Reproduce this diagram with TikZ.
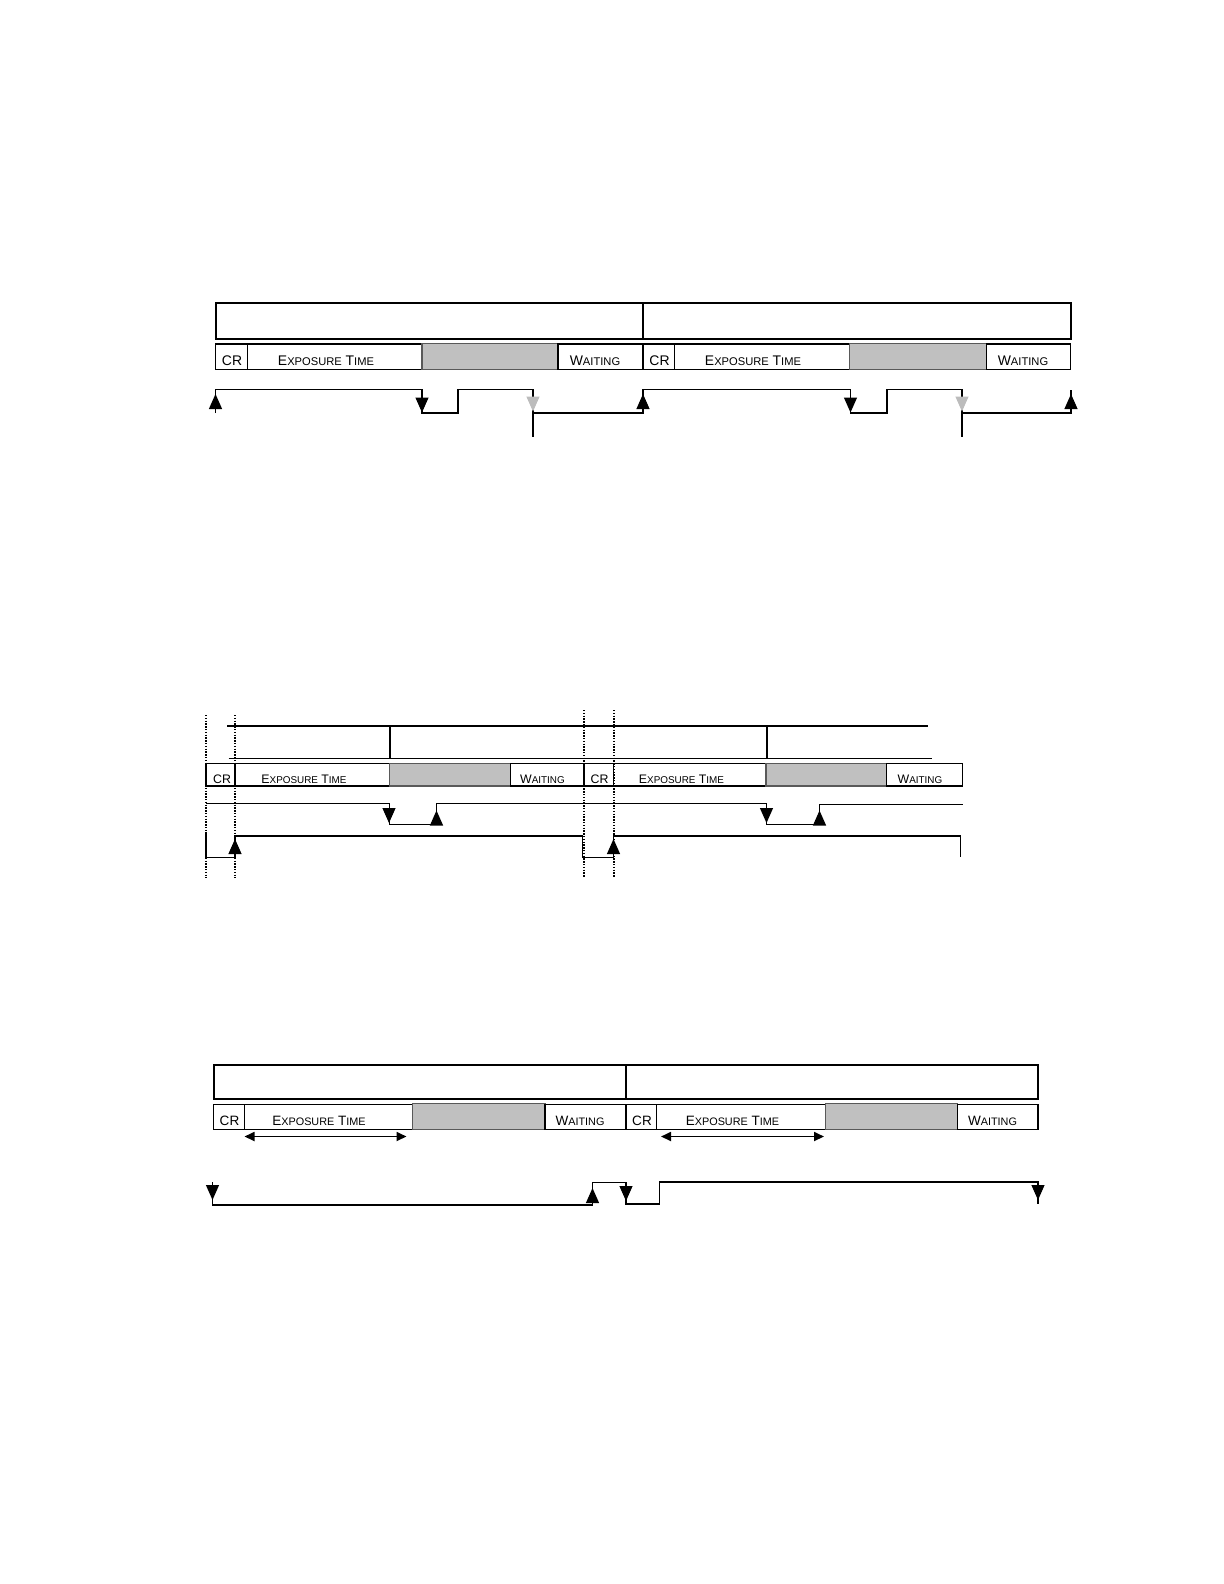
\documentclass[tikz,border=0pt]{standalone}
\usepackage{fontspec}
\newfontfamily\lblfont{Liberation Sans}
\usetikzlibrary{arrows.meta}
\definecolor{busygray}{RGB}{192,192,192}
\definecolor{tipgray}{RGB}{188,188,188}
\newcommand\sml[1]{\scalebox{0.8}{#1}}
\tikzset{
  framebox/.style={line width=1bp},
  cellbox/.style={line width=0.6bp},
  busybox/.style={fill=busygray, draw=black!65, line width=0.6bp},
  signal/.style={line width=0.55bp},
  thinsignal/.style={line width=0.4bp},
  edgetip/.style={-{Triangle[width=6.5bp,length=7.5bp]}, line width=0.55bp},
  spanarrow/.style={{Triangle[width=4.5bp,length=5bp]}-{Triangle[width=4.5bp,length=5bp]}, line width=0.9bp},
  timemark/.style={line width=1bp, dash pattern=on 0.7bp off 0.7bp},
  lblA/.style={font={\lblfont\fontsize{7}{8}\selectfont}, anchor=base, inner sep=0pt},
  lblB/.style={font={\lblfont\fontsize{6.2}{7}\selectfont}, anchor=base, inner sep=0pt},
  lblC/.style={font={\lblfont\fontsize{6.8}{8}\selectfont}, anchor=base, inner sep=0pt}
}
\begin{document}
\begin{tikzpicture}[x=0.5bp, y=-0.5bp]
                \useasboundingbox (0,0) rectangle (1224,1584);%

                % Drawing frame boxes, first chart
                \draw [framebox] (215.5,302.5) rectangle (643,339);%
                \draw [framebox] (643,302.5) rectangle (1070.5,339);%

                % Drawing cells, first chart
                \draw [cellbox] (215.5,344) rectangle (247.5,369.5);%
                \draw [cellbox] (247.5,344) rectangle (422,369.5);%
                \draw [busybox] (422,343.5) rectangle (558,369.5);%
                \draw [cellbox] (558,344) rectangle (643,369.5);%
                \draw [cellbox] (643,344) rectangle (674.5,369.5);%
                \draw [cellbox] (674.5,344) rectangle (849.5,369.5);%
                \draw [busybox] (849.5,343.5) rectangle (986.5,369.5);%
                \draw [cellbox] (986.5,344) rectangle (1070.5,369.5);%
                \node [lblA] (crA1) at (232,365) {CR};%
                \node [lblA] (expA1) at (326,365) {E\sml{XPOSURE} T\sml{IME}};%
                \node [lblA] (waitA1) at (595,365) {W\sml{AITING}};%
                \node [lblA] (crA2) at (659.5,365) {CR};%
                \node [lblA] (expA2) at (753,365) {E\sml{XPOSURE} T\sml{IME}};%
                \node [lblA] (waitA2) at (1023,365) {W\sml{AITING}};%

                % Drawing signal, first chart
                \draw [signal] (215.5,413) -- (215.5,389.5) -- (422,389.5) -- (422,413) -- (458,413) -- (458,389.5)
                  -- (533,389.5) -- (533,413) -- (643,413) -- (643,389.5) -- (850.5,389.5) -- (850.5,413)
                  -- (887,413) -- (887,389.5) -- (962,389.5) -- (962,413) -- (1071,413) -- (1071,389.5);%
                \draw [signal] (533,413) -- (533,437);%
                \draw [signal] (962,413) -- (962,437);%
                \draw [edgetip] (215.5,401.5) -- (215.5,394);%
                \draw [edgetip] (643,401.5) -- (643,394);%
                \draw [edgetip] (1071,401.5) -- (1071,394);%
                \draw [edgetip] (422,405) -- (422,412.5);%
                \draw [edgetip] (850.5,405) -- (850.5,412.5);%
                \draw [edgetip, tipgray] (533,404) -- (533,411.5);%
                \draw [edgetip, tipgray] (962,404) -- (962,411.5);%

                % Drawing strip, second chart
                \draw [cellbox] (227,726) -- (928,726);%
                \draw [cellbox] (228.5,758.5) -- (931.5,758.5);%
                \draw [cellbox] (390,726) -- (390,758.5);%
                \draw [cellbox] (767,726) -- (767,758.5);%

                % Drawing cells, second chart
                \draw [cellbox] (206,763.5) rectangle (235,786);%
                \draw [cellbox] (235,763.5) rectangle (389.5,786);%
                \draw [busybox] (389.5,763.5) rectangle (510.5,786);%
                \draw [cellbox] (510.5,763.5) rectangle (584,786);%
                \draw [cellbox] (584,763.5) rectangle (613.5,786);%
                \draw [cellbox] (613.5,763.5) rectangle (766,786);%
                \draw [busybox] (766,763.5) rectangle (886.5,786);%
                \draw [cellbox] (886.5,763.5) rectangle (962.5,786);%
                \node [lblB] (crB1) at (222,783) {CR};%
                \node [lblB] (expB1) at (304,783) {E\sml{XPOSURE} T\sml{IME}};%
                \node [lblB] (waitB1) at (542.5,783) {W\sml{AITING}};%
                \node [lblB] (crB2) at (599.5,783) {CR};%
                \node [lblB] (expB2) at (681.5,783) {E\sml{XPOSURE} T\sml{IME}};%
                \node [lblB] (waitB2) at (920,783) {W\sml{AITING}};%

                % Drawing upper signal, second chart
                \draw [thinsignal] (206,803.5) -- (389,803.5) -- (389,824) -- (436.5,824) -- (436.5,803.5)
                  -- (766.5,803.5) -- (766.5,824) -- (819.5,824) -- (819.5,804) -- (962.5,804);%
                \draw [edgetip] (389,815.5) -- (389,823);%
                \draw [edgetip] (766.5,815.5) -- (766.5,823);%
                \draw [edgetip] (436.5,818) -- (436.5,810.5);%
                \draw [edgetip] (819.5,818) -- (819.5,810.5);%

                % Drawing lower signal, second chart
                \draw [signal] (206,831.5) -- (206,857.5) -- (235,857.5) -- (235,836) -- (582.5,836) -- (582.5,857.5)
                  -- (613.5,857.5) -- (613.5,836) -- (960.5,836) -- (960.5,857);%
                \draw [edgetip] (235,846.5) -- (235,839);%
                \draw [edgetip] (613.5,846.5) -- (613.5,839);%

                % Drawing time marks, second chart
                \draw [timemark] (206,715) -- (206,878);%
                \draw [timemark] (235,715) -- (235,878);%
                \draw [timemark] (584,710) -- (584,878);%
                \draw [timemark] (613.5,710) -- (613.5,878);%

                % Drawing frame boxes, third chart
                \draw [framebox] (213.5,1064.5) rectangle (626,1099);%
                \draw [framebox] (626,1064.5) rectangle (1038,1099);%

                % Drawing cells, third chart
                \draw [cellbox] (213.5,1104.5) rectangle (244.5,1129.5);%
                \draw [cellbox] (244.5,1104.5) rectangle (412.5,1129.5);%
                \draw [busybox] (412.5,1103.5) rectangle (545,1129.5);%
                \draw [cellbox] (545,1104.5) rectangle (626,1129.5);%
                \draw [cellbox] (626,1104.5) rectangle (656.5,1129.5);%
                \draw [cellbox] (656.5,1104.5) rectangle (825.5,1129.5);%
                \draw [busybox] (825.5,1103.5) rectangle (957.5,1129.5);%
                \draw [cellbox] (957.5,1104.5) rectangle (1038,1129.5);%
                \node [lblC] (crC1) at (229.5,1125) {CR};%
                \node [lblC] (expC1) at (319,1125) {E\sml{XPOSURE} T\sml{IME}};%
                \node [lblC] (waitC1) at (580,1125) {W\sml{AITING}};%
                \node [lblC] (crC2) at (642,1125) {CR};%
                \node [lblC] (expC2) at (732.5,1125) {E\sml{XPOSURE} T\sml{IME}};%
                \node [lblC] (waitC2) at (992.5,1125) {W\sml{AITING}};%

                % Drawing exposure spans, third chart
                \draw [spanarrow] (244.5,1136.5) -- (406.5,1136.5);%
                \draw [spanarrow] (661,1136.5) -- (824,1136.5);%

                % Drawing signal, third chart
                \draw [signal] (212.5,1182) -- (212.5,1205) -- (592.5,1205) -- (592.5,1182.5) -- (626,1182.5) -- (626,1204)
                  -- (659.5,1204) -- (659.5,1182) -- (1038,1182) -- (1038,1204);%
                \draw [edgetip] (212.5,1192.5) -- (212.5,1200);%
                \draw [edgetip] (592.5,1195.5) -- (592.5,1188);%
                \draw [edgetip] (626,1193.5) -- (626,1201);%
                \draw [edgetip] (1038,1192.5) -- (1038,1200);%
\end{tikzpicture}
\end{document}
